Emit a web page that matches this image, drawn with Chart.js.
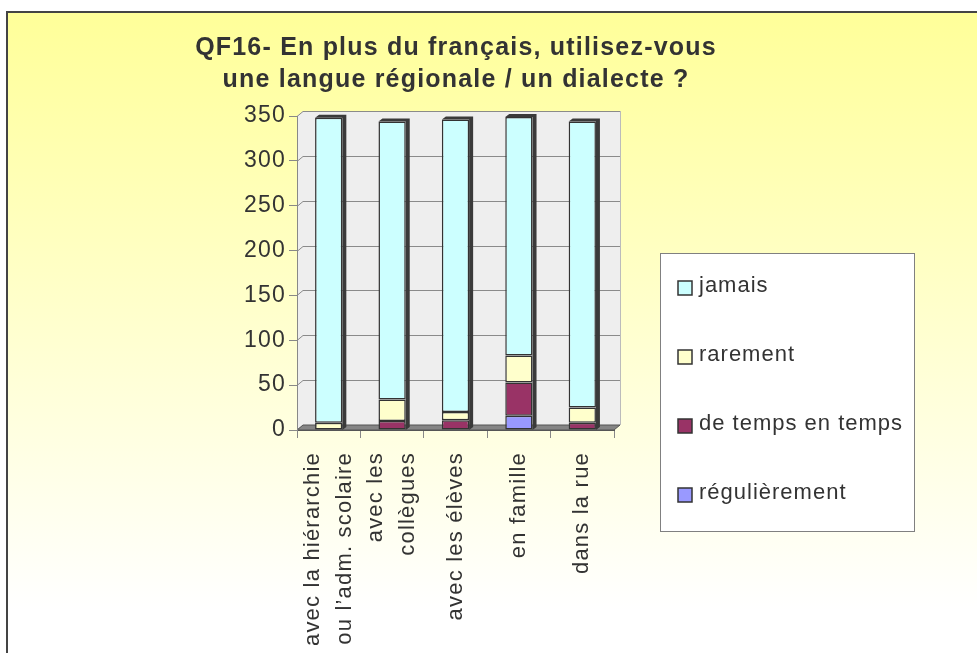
<!DOCTYPE html>
<html>
<head>
<meta charset="utf-8">
<script src="https://cdn.jsdelivr.net/npm/chart.js@4/dist/chart.umd.min.js"></script>
<style>
  body { margin: 0; background: #fff; }
  canvas { display: block; }
</style>
</head>
<body>
<canvas id="chart-1" width="977" height="653"></canvas>
<script>
const categories = [
  ["avec la hiérarchie", "ou l’adm. scolaire"],
  ["avec les", "collègues"],
  "avec les élèves",
  "en famille",
  "dans la rue"
];
const regulierement = [0, 0, 0, 16, 0];
const deTempsEnTemps = [0, 10, 11, 37, 8];
const rarement = [8, 24, 9, 30, 17];
const jamais = [340, 310, 326, 266, 319];
const yTicks = [0, 50, 100, 150, 200, 250, 300, 350];

const titleLines = ["QF16- En plus du français, utilisez-vous", "une langue régionale / un dialecte ?"];
const FONT = "'Liberation Sans', Arial, sans-serif";
const DX = 6, DY = -5; // depth of the back wall
const X_LINE_H = 22 * 1.45;

// background, walls, floor and gridlines
const backdrop = {
  id: "backdrop",
  beforeDraw(chart) {
    const ctx = chart.ctx;
    const a = chart.chartArea;
    const y = chart.scales.y;
    ctx.save();
    const g = ctx.createLinearGradient(0, 12, 0, 610);
    g.addColorStop(0, "#ffff99");
    g.addColorStop(1, "#ffffff");
    ctx.fillStyle = g;
    ctx.fillRect(7, 12, chart.width, chart.height);
    ctx.fillStyle = "#444";
    ctx.fillRect(6, 11, chart.width, 2);
    ctx.fillRect(6, 11, 2, chart.height);

    // back wall + side wall
    ctx.fillStyle = "#eeeeee";
    ctx.fillRect(a.left + DX, a.top + DY, a.right - a.left, a.bottom - a.top);
    ctx.beginPath();
    ctx.moveTo(a.left, a.top);
    ctx.lineTo(a.left + DX, a.top + DY);
    ctx.lineTo(a.left + DX, a.bottom + DY);
    ctx.lineTo(a.left, a.bottom);
    ctx.closePath();
    ctx.fill();

    ctx.strokeStyle = "#8a8a8a";
    ctx.lineWidth = 1;
    yTicks.forEach(v => {
      const py = Math.round(y.getPixelForValue(v)) + 0.5;
      ctx.beginPath();
      ctx.moveTo(a.left, py);
      ctx.lineTo(a.left + DX, py + DY);
      ctx.lineTo(a.right + DX, py + DY);
      ctx.stroke();
    });
    ctx.strokeStyle = "#bbb";
    ctx.beginPath();
    ctx.moveTo(a.right + DX + 0.5, a.top + DY);
    ctx.lineTo(a.right + DX + 0.5, a.bottom + DY);
    ctx.stroke();

    // floor
    ctx.fillStyle = "#858585";
    ctx.strokeStyle = "#555";
    ctx.beginPath();
    ctx.moveTo(a.left, a.bottom);
    ctx.lineTo(a.right, a.bottom);
    ctx.lineTo(a.right + DX, a.bottom + DY);
    ctx.lineTo(a.left + DX, a.bottom + DY);
    ctx.closePath();
    ctx.fill();
    ctx.stroke();
    ctx.restore();
    ctx.letterSpacing = "1.2px";

    // center the two-line category labels on their tick
    chart.scales.x.getLabelItems().forEach(it => {
      if (Array.isArray(it.label) && !it._centered) {
        it.options.translation[0] -= (it.label.length - 1) * X_LINE_H / 2;
        it._centered = true;
      }
    });
  },
  afterDatasetsDraw(chart) {
    // dark 3D side and top of each stack
    const ctx = chart.ctx;
    const meta = chart.getDatasetMeta(chart.data.datasets.length - 1);
    const base = chart.scales.y.getPixelForValue(0);
    ctx.save();
    ctx.fillStyle = "#3a3a3a";
    meta.data.forEach(el => {
      const l = el.x - el.width / 2, r = el.x + el.width / 2, t = el.y;
      ctx.beginPath();
      ctx.moveTo(r, base);
      ctx.lineTo(r, t);
      ctx.lineTo(l, t);
      ctx.lineTo(l + 4, t - 3);
      ctx.lineTo(r + 4, t - 3);
      ctx.lineTo(r + 4, base - 3);
      ctx.closePath();
      ctx.fill();
    });
    ctx.restore();
  },
  afterDraw(chart) {
    const ctx = chart.ctx;
    ctx.save();
    ctx.letterSpacing = "1.2px";
    ctx.fillStyle = "#333";
    ctx.textAlign = "center";
    ctx.textBaseline = "middle";
    ctx.font = "bold 25px " + FONT;
    ctx.fillText(titleLines[0], 456, 48);
    ctx.fillText(titleLines[1], 456, 80);

    // legend
    ctx.fillStyle = "#fff";
    ctx.fillRect(660, 253, 254, 278);
    ctx.strokeStyle = "#808080";
    ctx.lineWidth = 1;
    ctx.strokeRect(660.5, 253.5, 254, 278);
    ctx.letterSpacing = "1px";
    ctx.font = "22px " + FONT;
    ctx.textAlign = "left";
    const ds = chart.data.datasets.slice().reverse();
    ds.forEach((d, i) => {
      const cy = 288 + i * 69;
      ctx.fillStyle = d.backgroundColor;
      ctx.fillRect(678, cy - 7, 14, 14);
      ctx.strokeStyle = "#333";
      ctx.lineWidth = 1.5;
      ctx.strokeRect(678, cy - 7, 14, 14);
      ctx.fillStyle = "#333";
      ctx.fillText(d.label, 699, cy - 2);
    });
    ctx.restore();
  }
};

const mkSet = (label, data, color) => ({
  label: label,
  data: data,
  backgroundColor: color,
  borderColor: "#333",
  borderWidth: 1.5,
  borderSkipped: false,
  barPercentage: 0.43,
  categoryPercentage: 1
});

const ctx1 = document.getElementById("chart-1").getContext("2d");
const myChart = new Chart(ctx1, {
  type: "bar",
  data: {
    labels: categories,
    datasets: [
      mkSet("régulièrement", regulierement, "#9999ff"),
      mkSet("de temps en temps", deTempsEnTemps, "#993366"),
      mkSet("rarement", rarement, "#ffffcc"),
      mkSet("jamais", jamais, "#ccffff")
    ]
  },
  options: {
    responsive: false,
    animation: false,
    layout: { padding: { top: 116, right: 363, left: 0, bottom: 0 } },
    plugins: {
      legend: { display: false },
      title: { display: false },
      tooltip: { enabled: false }
    },
    scales: {
      x: {
        stacked: true,
        afterFit: s => { s.height = 223; },
        grid: { offset: true, drawOnChartArea: false, tickLength: 8, color: "#888" },
        border: { display: true, color: "#555" },
        ticks: {
          autoSkip: false,
          minRotation: 90,
          maxRotation: 90,
          padding: 14,
          color: "#333",
          font: { family: FONT, size: 22, lineHeight: 1.45 }
        }
      },
      y: {
        stacked: true,
        min: 0,
        max: 350,
        afterFit: s => { s.width = 297; },
        afterBuildTicks: s => { s.ticks = yTicks.map(v => ({ value: v })); },
        grid: { drawOnChartArea: false, tickLength: 8, color: "#888" },
        border: { display: true, color: "#888" },
        ticks: {
          padding: 3,
          color: "#333",
          font: { family: FONT, size: 23 }
        }
      }
    }
  },
  plugins: [backdrop]
});
</script>
</body>
</html>
